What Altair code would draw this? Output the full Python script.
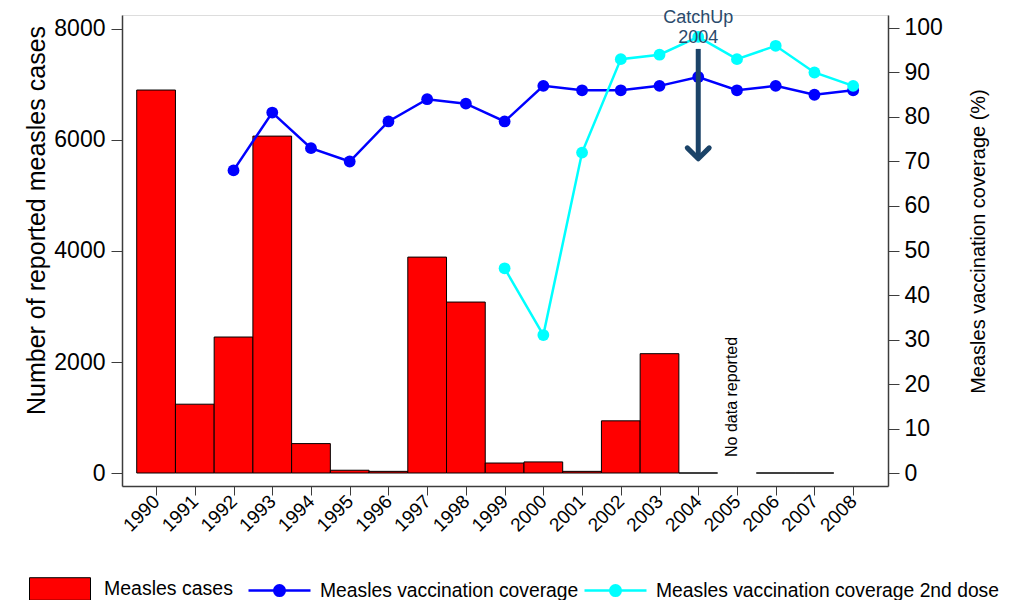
import altair as alt
import pandas as pd

# ---------------- data ----------------
years = list(range(1990, 2009))
cases = [6900, 1240, 2450, 6070, 530, 50, 30, 3890, 3080, 180, 200, 30, 940, 2150, 0, None, 0, 0, None]
coverage_1 = [None, None, 68, 81, 73, 70, 79, 84, 83, 79, 87, 86, 86, 87, 89, 86, 87, 85, 86]
coverage_2 = [None, None, None, None, None, None, None, None, None, 46, 31, 72, 93, 94, 98, 93, 96, 90, 87]
series_names = ["Measles cases", "Measles vaccination coverage", "Measles vaccination coverage 2nd dose"]
series_colors = ["#ff0000", "#0000ff", "#00ffff"]
left_ticks = [0, 2000, 4000, 6000, 8000]
right_ticks = [0, 10, 20, 30, 40, 50, 60, 70, 80, 90, 100]
catchup_labels = ["CatchUp", "2004"]
catchup_label_y = [101.2, 96.6]
catchup_year = 2004
arrow_top = 95.3
arrow_tip = 70.6
nodata_label = "No data reported"
nodata_year = 2004.86
nodata_y = 17.1

FONT = "Liberation Sans"
DARK = "#1b4368"
AX = "#3c3c3c"

bars_df = pd.DataFrame({"year": years, "cases": cases})
bars_df = bars_df.dropna()
bars_df["lo"] = bars_df["year"] - 0.5
bars_df["hi"] = bars_df["year"] + 0.5
bars_df["base"] = 0
bars_df["series"] = series_names[0]

cov1_df = pd.DataFrame({"year": years, "value": coverage_1, "series": series_names[1]}).dropna()
cov2_df = pd.DataFrame({"year": years, "value": coverage_2, "series": series_names[2]}).dropna()

x_scale = alt.Scale(domain=[1989.12, 2008.9], nice=False, zero=False)
x_axis = alt.Axis(values=years, format="d", labelAngle=315, labelAlign="right", labelBaseline="middle",
                  labelOverlap=False, labelFontSize=19, labelFont=FONT,
                  labelColor="black", tickSize=9, tickColor=AX, domainColor=AX, domainWidth=1.5,
                  labelPadding=3, grid=False, title=None)
yl_scale = alt.Scale(domain=[-234, 8252], nice=False, zero=False)
yl_axis = alt.Axis(values=left_ticks, format="d", orient="left", labelFontSize=23, labelFont=FONT,
                   labelColor="black", labelOverlap=False,
                   tickSize=11, tickColor=AX, domainColor=AX, domainWidth=1.5, labelPadding=6, grid=False,
                   titleFontSize=25, titleFont=FONT, titleFontWeight="normal", titleColor="black",
                   titlePadding=4, titleY=205)
yr_scale = alt.Scale(domain=[-2.92, 102.92], nice=False, zero=False)
YR_TITLE = "Measles vaccination coverage (%)"
yr_axis = alt.Axis(values=right_ticks, format="d", orient="right", labelFontSize=23, labelFont=FONT,
                   labelColor="black", labelOverlap=False,
                   tickSize=11, tickColor=AX, domainColor=AX, domainWidth=1.5, labelPadding=5, grid=False,
                   titleFontSize=20, titleFont=FONT, titleFontWeight="normal", titleColor="black",
                   titlePadding=46, titleAngle=270, titleY=226)

LEG_X = 125
LEG_Y = 543
SYM_SIZE = 3844


def X(field):
    return alt.X(field, scale=x_scale, axis=x_axis, title=None)


def YR(field):
    return alt.Y(field, scale=yr_scale, axis=yr_axis, title=YR_TITLE)


bars = alt.Chart(bars_df).mark_rect(stroke="black", strokeWidth=1, opacity=1).encode(
    x=X("lo:Q"),
    x2="hi:Q",
    y=alt.Y("cases:Q", scale=yl_scale, axis=yl_axis, title="Number of reported measles cases"),
    y2="base:Q",
    fill=alt.Fill("series:N", scale=alt.Scale(domain=[series_names[0]], range=[series_colors[0]]),
                  legend=alt.Legend(orient="none", legendX=-93, legendY=LEG_Y, title=None, padding=0,
                                    symbolType="M-1,-0.37H1V0.37H-1Z", symbolSize=3721,
                                    symbolStrokeColor="black", symbolStrokeWidth=1, symbolOpacity=1,
                                    labelFontSize=19.5, labelFont=FONT, labelColor="black",
                                    labelOffset=13, labelLimit=400)),
)

line_scale = alt.Scale(domain=series_names[1:], range=series_colors[1:])
line_legend = alt.Legend(orient="none", legendX=LEG_X, legendY=LEG_Y, title=None, padding=0,
                         direction="horizontal", columnPadding=0,
                         symbolType="M-1,0H1M0.17,0A0.17,0.17,0,1,1,-0.17,0A0.17,0.17,0,1,1,0.17,0Z",
                         symbolSize=SYM_SIZE, symbolStrokeWidth=2.5, symbolOpacity=1,
                         labelFontSize=19.3, labelFont=FONT, labelColor="black", labelOpacity=1,
                         labelOffset=8, labelLimit=500)


def cov_layers(df):
    ln = alt.Chart(df).mark_line(strokeWidth=2.5).encode(
        x=X("year:Q"), y=YR("value:Q"),
        stroke=alt.Stroke("series:N", scale=line_scale, legend=line_legend),
    )
    pt = alt.Chart(df).mark_point(filled=True, size=140, opacity=1).encode(
        x=X("year:Q"), y=YR("value:Q"),
        color=alt.Color("series:N", scale=line_scale, legend=line_legend),
    )
    return [ln, pt]


arrow_df = pd.DataFrame({"year": [catchup_year], "top": [arrow_top], "tip": [arrow_tip]})
arrow = alt.Chart(arrow_df).mark_rule(strokeWidth=5, color=DARK).encode(
    x=X("year:Q"), y=YR("top:Q"), y2="tip:Q",
)
arrow_head = alt.Chart(arrow_df).mark_point(shape="M-1,-1L0,0L1,-1", size=480, filled=False, strokeWidth=5,
                                            color=DARK, opacity=1, strokeCap="round", strokeJoin="round").encode(
    x=X("year:Q"), y=YR("tip:Q"),
)

catch_df = pd.DataFrame({"year": [catchup_year] * 2, "y": catchup_label_y, "label": catchup_labels})
catch_text = alt.Chart(catch_df).mark_text(font=FONT, fontSize=18, color="#2a4a6c", align="center",
                                           baseline="alphabetic").encode(
    x=X("year:Q"), y=YR("y:Q"), text="label:N",
)

nodata_df = pd.DataFrame({"year": [nodata_year], "y": [nodata_y], "label": [nodata_label]})
nodata_text = alt.Chart(nodata_df).mark_text(font=FONT, fontSize=16, color="black", angle=270, align="center",
                                             baseline="middle").encode(
    x=X("year:Q"), y=YR("y:Q"), text="label:N",
)

right = alt.layer(*cov_layers(cov1_df), *cov_layers(cov2_df), arrow, arrow_head, catch_text, nodata_text)

chart = alt.layer(bars, right).resolve_scale(y="independent").properties(
    width=766, height=471,
    padding={"left": 114, "top": 7, "right": 115, "bottom": 120},
    autosize=alt.AutoSizeParams(type="none"),
).configure_view(stroke="#e6eef1").configure(background="white")

chart.save("out.html", embed_options={"renderer": "svg", "actions": False})
